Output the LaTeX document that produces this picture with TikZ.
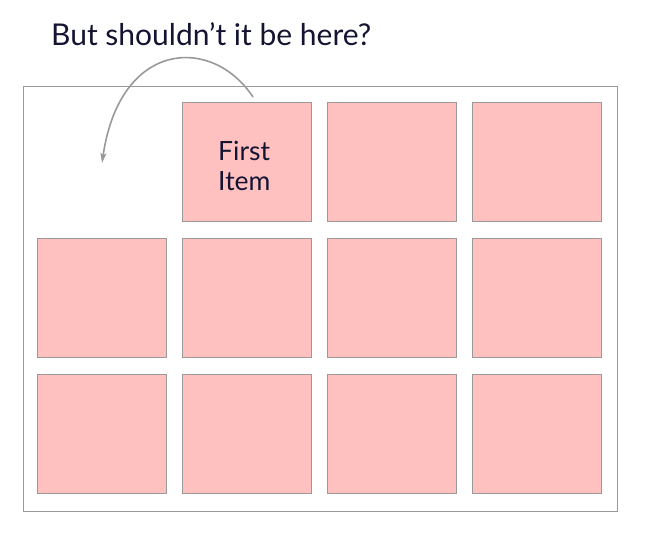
\documentclass[tikz,border=0pt]{standalone}
\usepackage{fontspec}
\setmainfont{Lato}
\usetikzlibrary{arrows.meta}
\definecolor{cellpink}{RGB}{255,192,192}
\definecolor{edgegray}{RGB}{153,153,153}
\definecolor{inkblue}{RGB}{20,20,50}
\begin{document}
\begin{tikzpicture}[x=1pt,y=-1pt,
  cell/.style={draw=edgegray,fill=cellpink,line width=1pt,minimum width=129pt,minimum height=119pt,inner sep=0pt},
  frame/.style={draw=edgegray,line width=1pt},
  lbl/.style={text=inkblue,inner sep=0pt}]
\useasboundingbox (0,0) rectangle (653,547);
\node[frame,minimum width=594pt,minimum height=425pt,inner sep=0pt] (outer) at (320,298.5) {};
\foreach \r/\y in {1/162,2/297.5,3/433.5}{
  \foreach \c/\x in {1/101.5,2/246.5,3/391.5,4/536.5}{
    \ifnum\r=1 \ifnum\c=1 \else \node[cell] (c\r\c) at (\x,\y) {}; \fi
    \else \node[cell] (c\r\c) at (\x,\y) {}; \fi
  }
}
\node[lbl,font=\fontsize{26.5}{30}\selectfont,align=left,anchor=base west] (first) at (218,190) {First\\Item};
\node[lbl,font=\fontsize{30}{33}\selectfont,anchor=base west] (title) at (51,45) {But shouldn’t it be here?};
\coordinate (from) at (253,97);
\coordinate (to) at (102,163);
\draw[edgegray,line width=1.6pt,-{Stealth[length=10pt,width=6pt,inset=2pt]}] (from) .. controls (212,35) and (120,40) .. (to);
\end{tikzpicture}
\end{document}
